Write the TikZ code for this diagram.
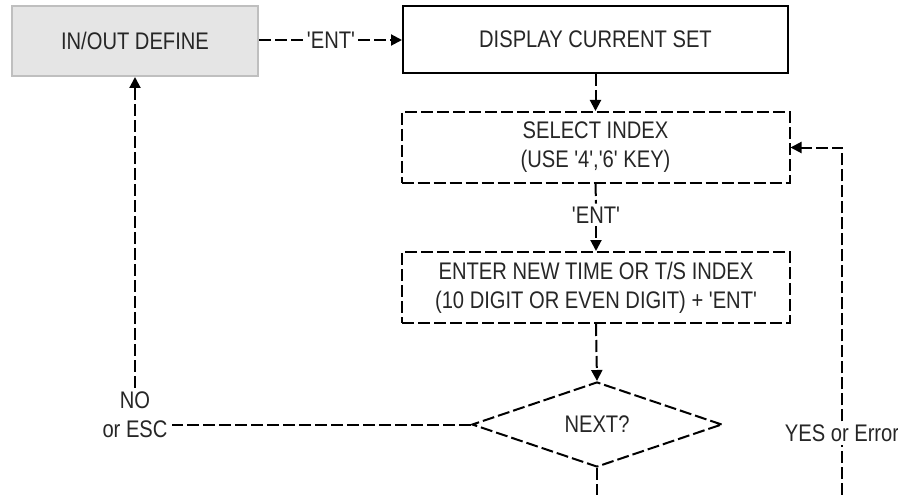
\documentclass[tikz,border=0pt]{standalone}
\usepackage{fontspec}
\setmainfont{Liberation Sans}[FakeStretch=0.84,Ligatures=TeXOff]
\usetikzlibrary{shapes.geometric,arrows.meta}
\begin{document}
\begin{tikzpicture}[x=1pt,y=-1pt,
  font=\fontsize{24}{29}\selectfont,
  txt/.style={text=black!85},
  dl/.style={line width=2pt,dash pattern=on 12pt off 4pt},
  arr/.style={-{Triangle[length=11pt,width=11pt]}},
  boxa/.style={txt,draw=black!25,fill=black!10,line width=2pt,minimum width=246pt,minimum height=70pt,inner sep=0pt},
  boxs/.style={txt,draw=black,line width=2pt,minimum width=385pt,minimum height=67pt,inner sep=0pt},
  boxd/.style={txt,draw=black,dl,minimum width=388pt,minimum height=71pt,inner sep=0pt,align=center},
  dia/.style={txt,draw=black,dl,shape=diamond,minimum width=250pt,minimum height=85pt,inner sep=0pt},
  lbl/.style={txt,fill=white,inner sep=3pt}
]
\useasboundingbox (0,0) rectangle (898,495);

\node[boxa] (inout) at (135,41) {IN/OUT DEFINE};
\node[boxs] (disp) at (595.5,39.5) {DISPLAY CURRENT SET};
\node[boxd] (sel) at (595.5,147.5) {SELECT INDEX\\(USE '4','6' KEY)};
\node[boxd] (ent) at (596,287.5) {ENTER NEW TIME OR T/S INDEX\\(10 DIGIT OR EVEN DIGIT) + 'ENT'};
\node[dia] (next) at (597,424.5) {NEXT?};

\node[lbl] (entA) at (331,40) {'ENT'};
\node[lbl] (entB) at (596,215) {'ENT'};
\node[lbl] (yes) at (842,433) {YES or Error};
\node[lbl,align=center,inner sep=4pt] (no) at (135,415) {NO\\or ESC};

\coordinate (bA) at (597,495);
\coordinate (bB) at (842,495);

% top arrow
\draw[dl] (inout.east |- entA) -- (entA.west);
\draw[dl,arr] (entA.east) -- (entA.east -| disp.west);
% display -> select
\draw[dl,arr] (disp.south) -- (sel.north);
% select -> enter
\draw[dl] (sel.south) -- (entB.north);
\draw[dl,arr] (entB.south) -- (ent.north);
% enter -> next
\draw[dl,arr] (ent.south) -- (next.north);
% next -> down
\draw[dl] (next.south) -- (bA);
% no branch
\draw[dl] (next.west) -- (next.west -| no.east);
\draw[dl,arr] (no.north) -- (inout.south);
% yes branch
\draw[dl] (bB) -- (yes.south);
\draw[dl,arr] (yes.north) -- (yes.north |- sel.east) -- (sel.east);
\end{tikzpicture}
\end{document}
